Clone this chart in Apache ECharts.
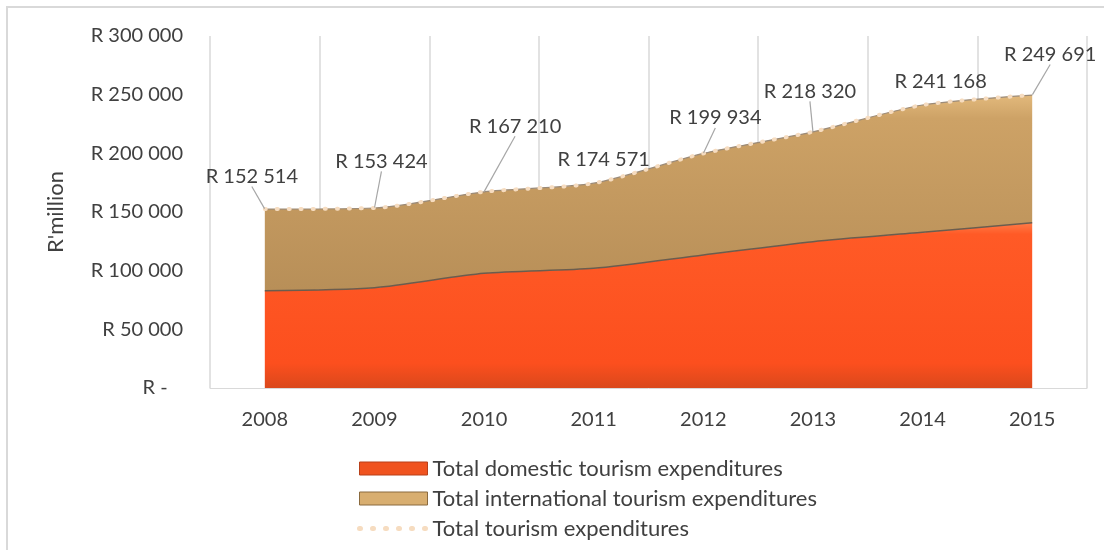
<!DOCTYPE html>
<html>
<head>
<meta charset="utf-8">
<script src="https://cdn.jsdelivr.net/npm/echarts@6/dist/echarts.min.js"></script>
<style>
    html, body { margin: 0; padding: 0; background: #fff; }
    #chart { width: 1104px; height: 550px; }
</style>
</head>
<body>
<div id="chart"></div>
<script>
    // data (R million)
    const years = ['2008', '2009', '2010', '2011', '2012', '2013', '2014', '2015']
    const domestic = [82900, 85400, 97700, 102000, 113400, 124700, 132700, 140900]
    const international = [69614, 68024, 69510, 72571, 86534, 93620, 108468, 108791]
    const total = [152514, 153424, 167210, 174571, 199934, 218320, 241168, 249691]
    const yTicks = [0, 50000, 100000, 150000, 200000, 250000, 300000]

    // where each total label sits relative to its default spot
    const labelDx = [-13, 7, 31, 10, 12, -3, 18, 18]
    const labelDy = [-17, -31, -50, -8, -20, -25, -8, -25]
    const showLeader = [true, true, true, false, true, true, false, true]

    const txt = '#404040'
    const font = 'Lato'

    function rand(v){
        if (v === 0) return 'R -   '
        return 'R ' + String(v).replace(/\B(?=(\d{3})+(?!\d))/g, ' ')
    }

    const mychart = echarts.init(document.getElementById('chart'))

    mychart.setOption({
        animation: false,
        textStyle: { fontFamily: font },
        grid: { left: 210, right: 17, top: 36, bottom: 162 },
        graphic: [{
            type: 'rect',
            shape: { x: 7, y: 7, width: 1300, height: 700 },
            style: { fill: 'none', stroke: '#d9d9d9', lineWidth: 2 },
            silent: true
        }],
        legend: {
            orient: 'vertical',
            left: 352,
            top: 452,
            itemWidth: 68,
            itemHeight: 13,
            itemGap: 7,
            textStyle: { color: txt, fontSize: 22, lineHeight: 23, fontFamily: font },
            data: [
                { name: 'Total domestic tourism expenditures', icon: 'rect',
                  itemStyle: { color: '#F0531F', borderColor: '#B8401A', borderWidth: 1 } },
                { name: 'Total international tourism expenditures', icon: 'rect',
                  itemStyle: { color: '#D8AE70', borderColor: '#8A6A3E', borderWidth: 1 } },
                { name: 'Total tourism expenditures',
                  lineStyle: { color: '#F6DCC0', width: 5, type: [1, 12], cap: 'round' } }
            ]
        },
        xAxis: {
            type: 'category',
            data: years,
            axisLine: { lineStyle: { color: '#d9d9d9', width: 1 } },
            axisTick: { show: false },
            axisLabel: { color: txt, fontSize: 20, margin: 22, fontFamily: font },
            splitLine: { show: true, lineStyle: { color: '#d9d9d9', width: 1.5 } }
        },
        yAxis: {
            type: 'value',
            min: yTicks[0],
            max: yTicks[yTicks.length - 1],
            interval: yTicks[1] - yTicks[0],
            name: "R'million",
            nameLocation: 'middle',
            nameGap: 143,
            nameRotate: 90,
            nameTextStyle: { color: txt, fontSize: 22, fontFamily: font },
            axisLine: { show: false },
            axisTick: { show: false },
            splitLine: { show: false },
            axisLabel: { color: txt, fontSize: 20, margin: 27, fontFamily: font, formatter: rand }
        },
        series: [
            {
                name: 'Total domestic tourism expenditures',
                type: 'line',
                stack: 'exp',
                data: domestic,
                smooth: 0.25,
                symbol: 'none',
                lineStyle: { color: '#6b5d4e', width: 1.5 },
                itemStyle: { color: '#F0531F' },
                areaStyle: {
                    opacity: 1,
                    color: new echarts.graphic.LinearGradient(0, 0, 0, 1, [
                        { offset: 0, color: '#FF7C48' },
                        { offset: 0.07, color: '#FF5A26' },
                        { offset: 0.85, color: '#FC4F1E' },
                        { offset: 1, color: '#DA481C' }
                    ])
                },
                z: 2
            },
            {
                name: 'Total international tourism expenditures',
                type: 'line',
                stack: 'exp',
                data: international,
                smooth: 0.25,
                symbol: 'none',
                lineStyle: { color: '#9c8b78', width: 1.2 },
                itemStyle: { color: '#D8AE70' },
                areaStyle: {
                    opacity: 1,
                    color: new echarts.graphic.LinearGradient(0, 0, 0, 1, [
                        { offset: 0, color: '#E2B97C' },
                        { offset: 0.12, color: '#CDA266' },
                        { offset: 1, color: '#B88F58' }
                    ])
                },
                z: 2
            },
            {
                name: 'Total tourism expenditures',
                type: 'line',
                data: total.map((v, i) => ({
                    value: v,
                    labelLine: { show: showLeader[i] }
                })),
                smooth: 0.25,
                symbol: 'circle',
                symbolSize: 1,
                itemStyle: { color: 'rgba(0,0,0,0)' },
                lineStyle: { color: '#F6DCC0', width: 4, type: [1, 11], cap: 'round' },
                label: {
                    show: true,
                    position: 'top',
                    color: txt,
                    fontSize: 20,
                    fontFamily: font,
                    formatter: (p) => rand(p.value)
                },
                labelLine: { show: true, lineStyle: { color: '#a6a6a6', width: 1.2 } },
                labelLayout: (p) => ({ dx: labelDx[p.dataIndex], dy: labelDy[p.dataIndex] }),
                z: 5
            }
        ]
    })
</script>
</body>
</html>
